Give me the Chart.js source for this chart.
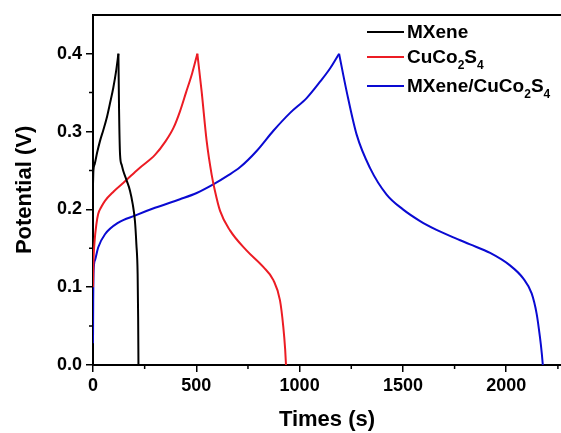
<!DOCTYPE html>
<html>
<head>
<meta charset="utf-8">
<script src="https://cdn.jsdelivr.net/npm/chart.js@4"></script>
<style>
  html, body { margin: 0; padding: 0; background: #fff; }
  #wrap { position: relative; width: 561px; height: 433px; }
  #legend { position: absolute; left: 0; top: 0; font: bold 19px "Liberation Sans", Arial, sans-serif; color: #000; }
  .row { position: absolute; left: 367px; height: 0; white-space: nowrap; }
  .swatch { position: absolute; left: 0; top: -1px; width: 37px; height: 2px; }
  .txt { position: absolute; left: 40px; top: -11px; line-height: 22px; }
  .txt sub { font-size: 12px; vertical-align: -6px; line-height: 0; }
</style>
</head>
<body>
<div id="wrap">
  <canvas id="gcdChart" width="561" height="433"></canvas>
  <div id="legend"></div>
</div>
<script>
  // galvanostatic charge/discharge curves, time (s) vs potential (V)
  // each curve is kept as a charge branch and a discharge branch
  const mxeneChargeTime = [0, 2, 8, 20, 34, 50, 66, 82, 98, 112, 123];
  const mxeneChargeV = [0.232, 0.25, 0.258, 0.273, 0.288, 0.302, 0.317, 0.336, 0.356, 0.378, 0.4];
  const mxeneDischargeTime = [123, 126, 131, 139, 147, 163, 179, 192, 203, 210, 216, 218.5, 220];
  const mxeneDischargeV = [0.4, 0.33, 0.27, 0.257, 0.249, 0.237, 0.224, 0.207, 0.185, 0.155, 0.117, 0.06, 0];

  const cucoChargeTime = [0, 2, 8, 16, 25, 40, 58, 100, 155, 220, 300, 350, 390, 421, 450, 480, 505];
  const cucoChargeV = [0.1, 0.13, 0.16, 0.18, 0.194, 0.203, 0.211, 0.223, 0.236, 0.252, 0.27, 0.287, 0.305, 0.326, 0.35, 0.375, 0.4];
  const cucoDischargeTime = [505, 526, 550, 574, 590, 615, 663, 744, 824, 873, 905, 921, 930, 934];
  const cucoDischargeV = [0.4, 0.351, 0.288, 0.245, 0.224, 0.198, 0.173, 0.147, 0.126, 0.109, 0.083, 0.049, 0.02, 0];

  const compChargeTime = [0, 1, 3, 10, 25, 58, 123, 203, 300, 421, 502, 582, 650, 711, 792, 873, 954, 1034, 1099, 1147, 1191];
  const compChargeV = [0.028, 0.08, 0.121, 0.135, 0.151, 0.168, 0.183, 0.192, 0.202, 0.213, 0.221, 0.232, 0.243, 0.254, 0.275, 0.301, 0.324, 0.343, 0.364, 0.381, 0.4];
  const compDischargeTime = [1191, 1228, 1276, 1341, 1421, 1500, 1583, 1660, 1744, 1825, 1922, 2018, 2083, 2123, 2147, 2163, 2172, 2177];
  const compDischargeV = [0.4, 0.351, 0.296, 0.253, 0.219, 0.2, 0.185, 0.174, 0.164, 0.155, 0.144, 0.128, 0.111, 0.092, 0.066, 0.036, 0.015, 0];

  const seriesNames = ["MXene", "CuCo<sub>2</sub>S<sub>4</sub>", "MXene/CuCo<sub>2</sub>S<sub>4</sub>"];
  const seriesColors = ["#000000", "#ec1c24", "#0a0ad2"];

  const xTicks = [0, 500, 1000, 1500, 2000];
  const xMinor = [250, 750, 1250, 1750, 2250];
  const yTicks = [0, 0.1, 0.2, 0.3, 0.4];
  const yMinor = [0.05, 0.15, 0.25, 0.35];

  const fontFamily = '"Liberation Sans", Arial, sans-serif';

  function toPoints(xs, ys) {
    return xs.map((x, i) => ({ x: x, y: ys[i] }));
  }

  const minorTicks = {
    id: "minorTicks",
    afterDraw(chart) {
      const ctx = chart.ctx;
      const xs = chart.scales.x;
      const ys = chart.scales.y;
      ctx.save();
      ctx.strokeStyle = "#000";
      ctx.lineWidth = 1.5;
      ctx.beginPath();
      xMinor.forEach(v => {
        const px = xs.getPixelForValue(v);
        if (px > chart.width) return;
        ctx.moveTo(px, ys.bottom);
        ctx.lineTo(px, ys.bottom + 4);
      });
      yMinor.forEach(v => {
        const py = ys.getPixelForValue(v);
        ctx.moveTo(xs.left, py);
        ctx.lineTo(xs.left - 4, py);
      });
      ctx.stroke();
      ctx.restore();
    },
  };

  const branches = [
    [0, mxeneChargeTime, mxeneChargeV],
    [0, mxeneDischargeTime, mxeneDischargeV],
    [1, cucoChargeTime, cucoChargeV],
    [1, cucoDischargeTime, cucoDischargeV],
    [2, compChargeTime, compChargeV],
    [2, compDischargeTime, compDischargeV],
  ];

  const datasets = branches.map(([s, xs, ys]) => ({
    label: seriesNames[s].replace(/<\/?sub>/g, ""),
    data: toPoints(xs, ys),
    borderColor: seriesColors[s],
    backgroundColor: seriesColors[s],
    borderWidth: 2,
    pointRadius: 0,
    cubicInterpolationMode: "monotone",
    fill: false,
  }));

  const ctx = document.getElementById("gcdChart").getContext("2d");
  const myChart = new Chart(ctx, {
    type: "line",
    data: { datasets: datasets },
    options: {
      responsive: false,
      animation: false,
      events: [],
      layout: { padding: { top: 13, right: 0, left: 0, bottom: 0 } },
      plugins: { legend: { display: false }, tooltip: { enabled: false } },
      scales: {
        x: {
          type: "linear",
          min: 0,
          max: 2265,
          afterBuildTicks: s => { s.ticks = xTicks.map(v => ({ value: v })); },
          afterFit: s => { s.height = 68; },
          ticks: {
            color: "#000",
            font: { family: fontFamily, size: 18, weight: "bold" },
            padding: 3,
            maxRotation: 0,
            autoSkip: false,
            callback: v => String(v),
          },
          grid: { drawOnChartArea: false, tickLength: 7, color: "#000", lineWidth: 1.5 },
          border: { color: "#000", width: 2 },
          title: {
            display: true,
            text: "Times (s)",
            color: "#000",
            font: { family: fontFamily, size: 22, weight: "bold" },
            padding: { top: 4, bottom: 0 },
          },
        },
        x2: {
          type: "linear",
          position: "top",
          min: 0,
          max: 2265,
          ticks: { display: false },
          grid: { display: false },
          border: { color: "#000", width: 2 },
          afterFit: s => { s.height = 0; },
        },
        y: {
          min: 0,
          max: 0.45,
          afterBuildTicks: s => { s.ticks = yTicks.map(v => ({ value: v })); },
          afterFit: s => { s.width = 93; },
          ticks: {
            color: "#000",
            font: { family: fontFamily, size: 18, weight: "bold" },
            padding: 4,
            callback: v => v.toFixed(1),
          },
          grid: { drawOnChartArea: false, tickLength: 7, color: "#000", lineWidth: 1.5 },
          border: { color: "#000", width: 2 },
          title: {
            display: true,
            text: "Potential (V)",
            color: "#000",
            font: { family: fontFamily, size: 22, weight: "bold" },
            padding: { top: 12, bottom: 0 },
          },
        },
      },
    },
    plugins: [minorTicks],
  });

  // legend with subscripts, placed inside the plot at top right
  const legendRows = [32, 57, 86];
  const legend = document.getElementById("legend");
  seriesNames.forEach((name, i) => {
    const row = document.createElement("div");
    row.className = "row";
    row.style.top = legendRows[i] + "px";
    row.innerHTML = '<span class="swatch" style="background:' + seriesColors[i] + '"></span><span class="txt">' + name + "</span>";
    legend.appendChild(row);
  });
</script>
</body>
</html>
